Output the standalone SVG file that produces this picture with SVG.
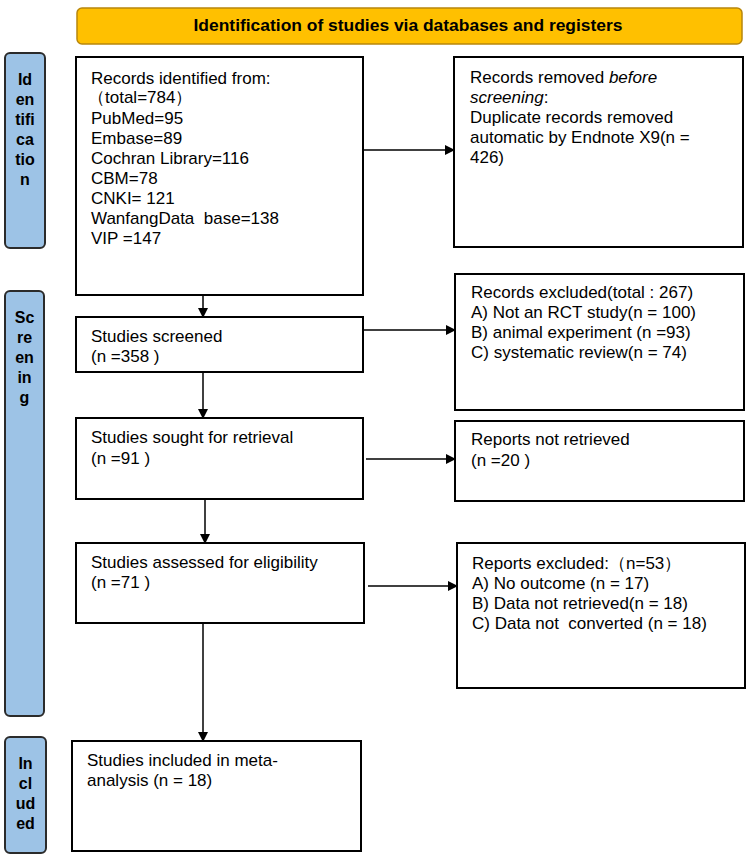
<svg xmlns="http://www.w3.org/2000/svg" width="750" height="858" viewBox="0 0 750 858">
<style>
.box{fill:#fff;stroke:#000;stroke-width:2}
.side{fill:#9dc3e6;stroke:#2b2b2b;stroke-width:2}
.t{font-family:"Liberation Sans",Arial,sans-serif;font-size:17px;fill:#000;white-space:pre}
.lb{font-family:"Liberation Sans",Arial,sans-serif;font-size:16px;font-weight:bold;fill:#000;text-anchor:middle}
.ln{stroke:#000;stroke-width:1.5;fill:none;marker-end:url(#ah)}
</style>
<defs>
<marker id="ah" markerWidth="10" markerHeight="10" refX="9" refY="5" orient="auto" markerUnits="userSpaceOnUse">
<path d="M0,0 L10,5 L0,10 Z" fill="#000"/>
</marker>
</defs>
<rect width="750" height="858" fill="#fff"/>
<g id="title">
<rect x="77" y="8" width="665" height="36" rx="5" fill="#ffc000" stroke="#b8860b" stroke-width="1.5"/>
<text x="408" y="31" class="lb" textLength="429" lengthAdjust="spacingAndGlyphs">Identification of studies via databases and registers</text>
</g>
<g id="label-identification">
<rect x="5" y="53" width="40" height="195" rx="5" class="side"/>
<text class="lb"><tspan x="25" y="85">Id</tspan><tspan x="25" y="105">en</tspan><tspan x="25" y="125">tifi</tspan><tspan x="25" y="145">ca</tspan><tspan x="25" y="165">tio</tspan><tspan x="25" y="185">n</tspan></text>
</g>
<g id="label-screening">
<rect x="5" y="291" width="39" height="425" rx="5" class="side"/>
<text class="lb"><tspan x="24.5" y="323">Sc</tspan><tspan x="24.5" y="343">re</tspan><tspan x="24.5" y="363">en</tspan><tspan x="24.5" y="383">in</tspan><tspan x="24.5" y="403">g</tspan></text>
</g>
<g id="label-included">
<rect x="5" y="737" width="41" height="116" rx="5" class="side"/>
<text class="lb"><tspan x="25.5" y="769">In</tspan><tspan x="25.5" y="789">cl</tspan><tspan x="25.5" y="809">ud</tspan><tspan x="25.5" y="829">ed</tspan></text>
</g>
<g id="records-identified">
<rect x="76" y="57" width="287" height="238" class="box"/>
<text class="t"><tspan x="91" y="84">Records identified from:</tspan><tspan x="88" y="103">（total=784）</tspan><tspan x="91" y="124">PubMed=95</tspan><tspan x="91" y="144">Embase=89</tspan><tspan x="91" y="164">Cochran Library=116</tspan><tspan x="91" y="184">CBM=78</tspan><tspan x="91" y="204">CNKI= 121</tspan><tspan x="91" y="224">WanfangData  base=138</tspan><tspan x="91" y="244">VIP =147</tspan></text>
</g>
<g id="records-removed">
<rect x="454" y="57" width="289" height="190" class="box"/>
<text class="t"><tspan x="470" y="83">Records removed <tspan font-style="italic">before</tspan></tspan><tspan x="470" y="103"><tspan font-style="italic">screening</tspan>:</tspan><tspan x="470" y="123">Duplicate records removed</tspan><tspan x="470" y="143">automatic by Endnote X9(n =</tspan><tspan x="470" y="163">426)</tspan></text>
</g>
<g id="studies-screened">
<rect x="76" y="317" width="287" height="55" class="box"/>
<text class="t"><tspan x="91" y="342">Studies screened</tspan><tspan x="91" y="362">(n =358 )</tspan></text>
</g>
<g id="records-excluded">
<rect x="455" y="274" width="289" height="136" class="box"/>
<text class="t"><tspan x="471" y="298">Records excluded(total : 267)</tspan><tspan x="471" y="318">A) Not an RCT study(n = 100)</tspan><tspan x="471" y="338">B) animal experiment (n =93)</tspan><tspan x="471" y="358">C) systematic review(n = 74)</tspan></text>
</g>
<g id="studies-sought">
<rect x="76" y="418" width="287" height="81" class="box"/>
<text class="t"><tspan x="91" y="443">Studies sought for retrieval</tspan><tspan x="91" y="464">(n =91 )</tspan></text>
</g>
<g id="reports-not-retrieved">
<rect x="455" y="421" width="289" height="80" class="box"/>
<text class="t"><tspan x="471" y="445">Reports not retrieved</tspan><tspan x="471" y="466">(n =20 )</tspan></text>
</g>
<g id="studies-assessed">
<rect x="76" y="543" width="288" height="80" class="box"/>
<text class="t"><tspan x="91" y="568">Studies assessed for eligibility</tspan><tspan x="91" y="588">(n =71 )</tspan></text>
</g>
<g id="reports-excluded">
<rect x="457" y="543" width="288" height="145" class="box"/>
<text class="t"><tspan x="472" y="569">Reports excluded:（n=53）</tspan><tspan x="472" y="589">A) No outcome (n = 17)</tspan><tspan x="472" y="609">B) Data not retrieved(n = 18)</tspan><tspan x="472" y="629">C) Data not  converted (n = 18)</tspan></text>
</g>
<g id="studies-included">
<rect x="72" y="741" width="289" height="110" class="box"/>
<text class="t"><tspan x="87" y="766">Studies included in meta-</tspan><tspan x="87" y="786">analysis (n = 18)</tspan></text>
</g>
<g id="connectors">
<line x1="363" y1="150" x2="454" y2="150" class="ln"/>
<line x1="203" y1="296" x2="203" y2="317" class="ln"/>
<line x1="363" y1="330" x2="455" y2="330" class="ln"/>
<line x1="203" y1="373" x2="203" y2="418" class="ln"/>
<line x1="366" y1="459" x2="455" y2="459" class="ln"/>
<line x1="205" y1="500" x2="205" y2="543" class="ln"/>
<line x1="368" y1="586" x2="457" y2="586" class="ln"/>
<line x1="203" y1="624" x2="203" y2="741" class="ln"/>
</g>
</svg>
